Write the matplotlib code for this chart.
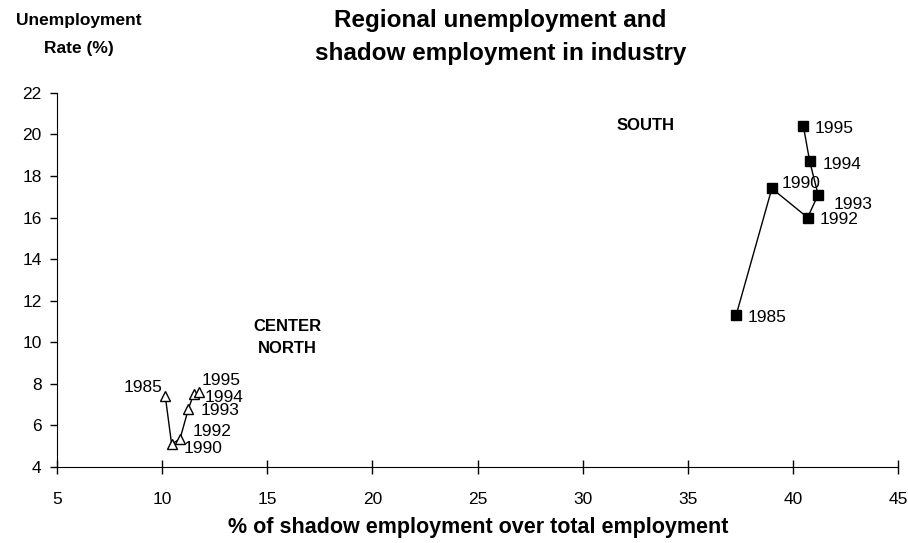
import matplotlib
matplotlib.use("Agg")
import matplotlib.pyplot as plt

plt.rcParams['font.family'] = ['Liberation Sans', 'DejaVu Sans']

years = ['1985', '1990', '1992', '1993', '1994', '1995']

# South
south_x = [37.3, 39.0, 40.7, 41.2, 40.8, 40.5]
south_y = [11.3, 17.4, 16.0, 17.1, 18.7, 20.4]

# Center North
cn_x = [10.15, 10.45, 10.85, 11.25, 11.5, 11.75]
cn_y = [7.4, 5.1, 5.35, 6.8, 7.5, 7.6]

# label offsets (points) and alignment
south_off = [(8.5, -1.5), (7, 3.5), (8.5, -1.5), (11, -7), (9, -2), (8, -1.5)]
cn_off = [(-2, 6), (9, -3.5), (9, 5), (8.5, -1.5), (8, -2), (2, 8.5)]
cn_ha = ['right', 'left', 'left', 'left', 'left', 'left']

fig = plt.figure(figsize=(9.08, 5.43), dpi=100)
ax = fig.add_axes([0.0628, 0.140, 0.9262, 0.689])

ax.plot(south_x, south_y, color='black', lw=1, marker='s', ms=7,
        mfc='black', mec='black')
ax.plot(cn_x, cn_y, color='black', lw=1, marker='^', ms=7,
        mfc='white', mec='black')

for xv, yv, lab, off in zip(south_x, south_y, years, south_off):
    ax.annotate(lab, (xv, yv), xytext=off, textcoords='offset points',
                fontsize=12.5, va='center', ha='left')
for xv, yv, lab, off, ha in zip(cn_x, cn_y, years, cn_off, cn_ha):
    ax.annotate(lab, (xv, yv), xytext=off, textcoords='offset points',
                fontsize=12.5, va='center', ha=ha)

ax.text(33.0, 20.45, 'SOUTH', fontsize=12, fontweight='bold', ha='center', va='center')
ax.text(15.95, 10.75, 'CENTER', fontsize=12, fontweight='bold', ha='center', va='center')
ax.text(15.95, 9.72, 'NORTH', fontsize=12, fontweight='bold', ha='center', va='center')

ax.set_xlim(5, 45)
ax.set_ylim(4, 22)
ax.set_xticks(range(5, 46, 5))
ax.set_yticks(range(4, 23, 2))
ax.tick_params(axis='both', labelsize=12.5, length=5, width=1, color='black')
ax.tick_params(axis='x', direction='inout', length=10, pad=13)
ax.tick_params(axis='y', pad=6)
ax.spines['top'].set_visible(False)
ax.spines['right'].set_visible(False)

fig.text(0.527, 0.028, '% of shadow employment over total employment', fontsize=15.5,
         fontweight='bold', ha='center', va='center')

fig.text(0.551, 1 - 27 / 543, 'Regional unemployment and', fontsize=17.5,
         fontweight='bold', ha='center', va='baseline')
fig.text(0.551, 1 - 60 / 543, 'shadow employment in industry', fontsize=17.5,
         fontweight='bold', ha='center', va='baseline')
fig.text(0.087, 1 - 20 / 543, 'Unemployment', fontsize=12.5, fontweight='bold',
         ha='center', va='center')
fig.text(0.087, 1 - 48 / 543, 'Rate (%)', fontsize=12.5, fontweight='bold',
         ha='center', va='center')

fig.savefig('out.png', dpi=100)
